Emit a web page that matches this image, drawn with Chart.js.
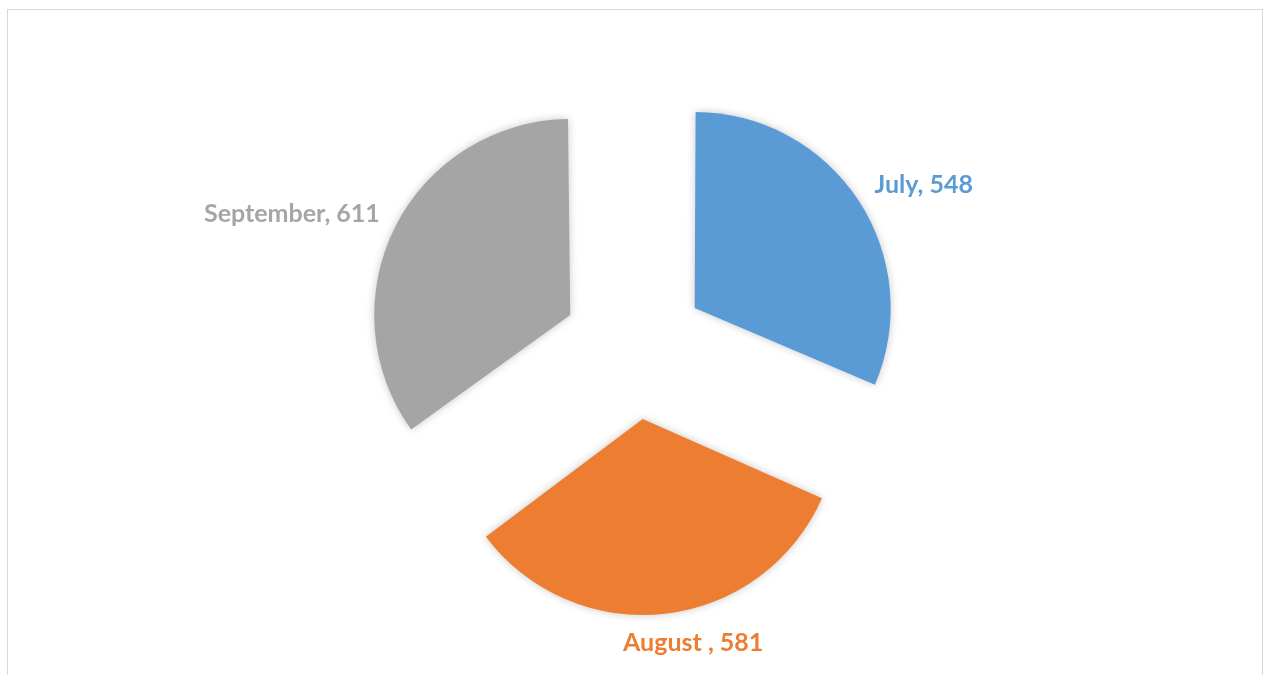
<!DOCTYPE html>
<html>
<head>
<meta charset="utf-8">
<script src="https://cdn.jsdelivr.net/npm/chart.js"></script>
<style>
  html, body { margin: 0; padding: 0; background: #fff; overflow: hidden; }
  #frame { position: absolute; left: 7px; top: 9px; width: 1256px; height: 720px; border: 1px solid #d9d9d9; box-sizing: border-box; }
  #wrap { position: absolute; left: 0; top: 0; width: 1265px; height: 675px; }
</style>
</head>
<body>
<div id="frame"></div>
<div id="wrap"><canvas id="myChart"></canvas></div>
<script>
const months = ['July', 'August ', 'September'];
const visits = [548, 581, 611];
const sliceColors = ['#5B9BD5', '#ED7D31', '#A5A5A5'];

const explode = 72;
const pieRadius = 196;
// small hand tweaks so the labels sit where the original put them
const labelNudge = [[0, 6], [17, -10], [1, 5]];

// chart.js grows the radius of an offset arc a bit (more for wide slices);
// take that back out so every slice ends up the same size
const evenRadius = {
    id: 'evenRadius',
    afterDatasetsUpdate(chart) {
        chart.getDatasetMeta(0).data.forEach(arc => {
            const fix = 1 - Math.sin(Math.min(Math.PI, arc.circumference));
            arc.outerRadius = pieRadius - explode * fix;
        });
    }
};

// soft shadow under the slices, like the office pie
const sliceShadow = {
    id: 'sliceShadow',
    beforeDatasetsDraw(chart) {
        const c = chart.ctx;
        c.save();
        c.shadowColor = 'rgba(0,0,0,0.22)';
        c.shadowBlur = 9;
        c.shadowOffsetX = 0;
        c.shadowOffsetY = 0;
    },
    afterDatasetsDraw(chart) {
        chart.ctx.restore();
    }
};

// "Month, value" label outside each slice
const sliceLabels = {
    id: 'sliceLabels',
    afterDatasetsDraw(chart) {
        const c = chart.ctx;
        const meta = chart.getDatasetMeta(0);
        c.save();
        c.font = 'bold 25px Lato';
        c.textAlign = 'center';
        c.textBaseline = 'middle';
        meta.data.forEach((arc, i) => {
            const p = arc.getProps(['x', 'y', 'startAngle', 'endAngle'], true);
            const mid = (p.startAngle + p.endAngle) / 2;
            const dx = Math.cos(mid), dy = Math.sin(mid);
            const dist = explode + pieRadius + 29;
            const text = months[i] + ', ' + visits[i];
            const w = c.measureText(text).width;
            const tx = p.x + dx * dist + dx * w / 2 + labelNudge[i][0];
            const ty = p.y + dy * dist + dy * 10 + labelNudge[i][1];
            c.fillStyle = sliceColors[i];
            c.fillText(text, tx, ty);
        });
        c.restore();
    }
};

new Chart(document.getElementById('myChart'), {
    type: 'pie',
    data: {
        labels: months,
        datasets: [{
            data: visits,
            backgroundColor: sliceColors,
            borderWidth: 0,
            offset: explode * 4,
            hoverOffset: 0
        }]
    },
    options: {
        responsive: true,
        maintainAspectRatio: false,
        animation: false,
        radius: pieRadius,
        layout: { padding: { left: 54, right: 50, top: 40, bottom: 20 } },
        plugins: {
            legend: { display: false },
            tooltip: { enabled: false }
        },
        events: []
    },
    plugins: [evenRadius, sliceShadow, sliceLabels]
});
</script>
</body>
</html>
